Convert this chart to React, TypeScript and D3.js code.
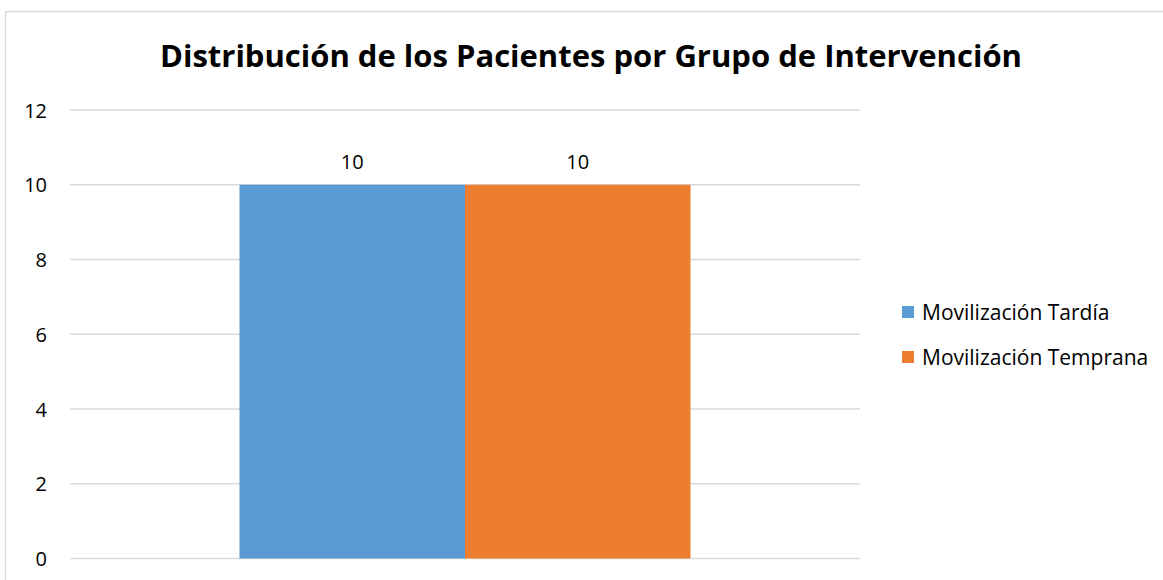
import React from "react";
import * as d3 from "d3";

const categories = ["Grupo"];
const seriesNames = ["Movilización Tardía", "Movilización Temprana"];
const seriesValues = [[10], [10]];
const colors = ["#5B9BD5", "#ED7D31"];
const yTicks = [0, 2, 4, 6, 8, 10, 12];
const title = "Distribución de los Pacientes por Grupo de Intervención";

const W = 1163, H = 580;
const plot = { left: 70, right: 860, top: 110, bottom: 558.5 };
const FONT = "'Open Sans', 'Noto Sans', sans-serif";
const LABEL_SIZE = 20;

export default function App() {
  const y = d3.scaleLinear().domain([0, 12]).range([plot.bottom, plot.top]);
  const x0 = d3.scaleBand<string>().domain(categories).range([plot.left, plot.right]).paddingInner(0).paddingOuter(0.3758);
  const x1 = d3.scaleBand<string>().domain(seriesNames).range([0, x0.bandwidth()]).padding(0);

  return (
    <svg width={W} height={H} style={{ position: "fixed", left: 0, top: 0 }} fontFamily={FONT}>
      <rect x={0} y={0} width={W} height={H} fill="#fff" />
      <rect x={5.5} y={11.5} width={W + 10} height={H + 10} fill="none" stroke="#D9D9D9" strokeWidth={1.5} />
      <text x={591} y={55} textAnchor="middle" dominantBaseline="central" fontSize={31} fontWeight="bold" fill="#000">{title}</text>
      {yTicks.map(t => (
        <g key={t}>
          <line x1={plot.left} x2={plot.right} y1={y(t)} y2={y(t)} stroke="#D9D9D9" strokeWidth={1.5} />
          <text x={47} y={y(t)} textAnchor="end" dominantBaseline="central" fontSize={LABEL_SIZE} fill="#000">{t}</text>
        </g>
      ))}
      {categories.map((c, ci) => (
        <g key={c} transform={`translate(${x0(c)},0)`}>
          {seriesNames.map((s, si) => {
            const v = seriesValues[si][ci];
            const bx = x1(s)!;
            return (
              <g key={s}>
                <rect x={bx} y={y(v)} width={x1.bandwidth()} height={y(0) - y(v)} fill={colors[si]} />
                <text x={bx + x1.bandwidth() / 2} y={y(v) - 23} textAnchor="middle" dominantBaseline="central" fontSize={LABEL_SIZE} fill="#000">{v}</text>
              </g>
            );
          })}
        </g>
      ))}
      {seriesNames.map((s, i) => (
        <g key={s} transform={`translate(902,${312 + i * 45})`}>
          <rect x={0} y={-6} width={12} height={12} fill={colors[i]} />
          <text x={20} y={0} dominantBaseline="central" fontSize={21} fill="#000">{s}</text>
        </g>
      ))}
    </svg>
  );
}
